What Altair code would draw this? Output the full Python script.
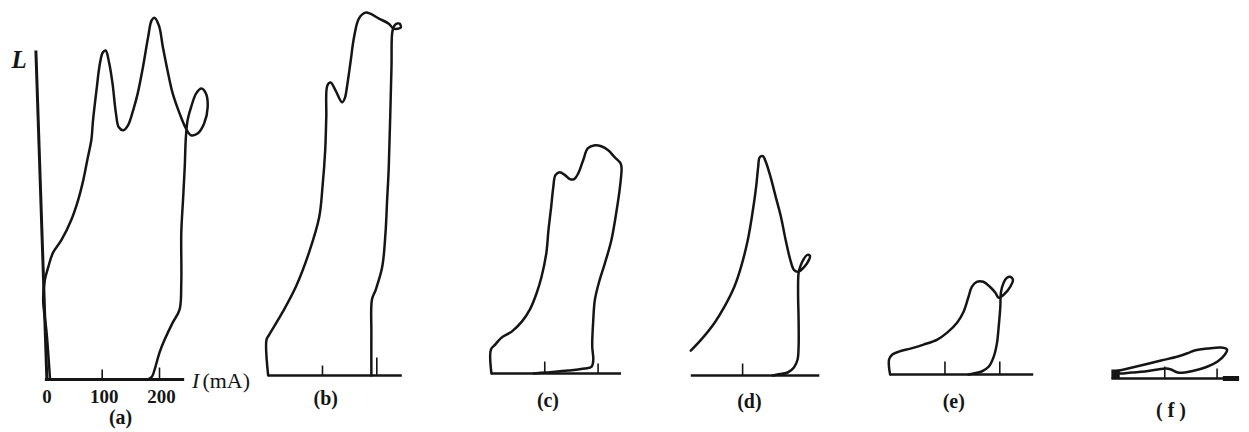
import altair as alt
import pandas as pd

# ---------------- data: light output L (arbitrary units) vs current I (mA) ----------------
A_I = [9, 3, -3, 0, 6, 14, 29, 46, 58, 67, 75, 81, 84, 90, 96, 101, 106, 112, 118, 124, 129, 137, 145,
       154, 162, 171, 180, 186, 191, 199, 206, 214, 223, 235, 246, 255, 267, 278, 284, 281, 273, 264,
       255, 249, 246, 244, 241, 238, 238, 235, 223, 209, 200, 193, 187, 180]
A_L = [0, 47, 80, 100, 113, 127, 140, 160, 180, 200, 223, 240, 260, 290, 317, 328, 330, 318, 297, 267,
       253, 250, 255, 270, 287, 313, 343, 360, 363, 355, 333, 310, 287, 267, 252, 245, 247, 257, 273,
       287, 292, 287, 273, 260, 243, 213, 180, 147, 97, 70, 57, 40, 27, 13, 3, 0]

B_I = [0, -3, 2, 26, 51, 75, 94, 100, 105, 107, 109, 115, 124, 136, 141, 146, 152, 158, 167, 179, 188,
       204, 222, 231, 244, 242, 234, 229, 227, 222, 219, 216, 210, 198, 191, 190, 190]
B_L = [0, 36, 41, 63, 89, 123, 159, 189, 226, 259, 291, 294, 286, 274, 278, 293, 316, 339, 358, 364,
       363, 358, 353, 348, 349, 353, 352, 346, 309, 209, 176, 143, 109, 86, 76, 43, 0]

C_I = [0, -1, 7, 19, 38, 57, 72, 85, 94, 103, 107, 112, 116, 120, 128, 138, 147, 155, 163, 172, 181,
       194, 206, 219, 231, 242, 244, 241, 234, 225, 213, 203, 194, 191, 189, 191, 188, 175, 144, 100, 79]
C_L = [0, 24, 29, 36, 42, 52, 64, 81, 97, 121, 144, 167, 187, 199, 202, 199, 195, 195, 201, 214, 226,
       229, 228, 224, 217, 211, 206, 187, 161, 134, 111, 94, 74, 54, 27, 14, 7, 5, 3, 1, 0]

D_I = [0, 20, 46, 65, 84, 97, 110, 119, 126, 130, 133, 139, 145, 154, 164, 174, 183, 192, 199, 207,
       219, 228, 230, 225, 217, 211, 208, 207, 208, 208, 206, 199, 187, 167, 158]
D_L = [25, 36, 53, 69, 89, 109, 136, 163, 189, 209, 219, 220, 214, 199, 179, 159, 136, 116, 106, 104,
       109, 116, 120, 121, 116, 109, 103, 83, 56, 29, 16, 8, 3, 1, 0]

E_I = [0, -2, -2, 4, 16, 37, 61, 86, 104, 122, 134, 143, 149, 158, 170, 182, 192, 198, 207, 219, 224,
       219, 213, 207, 202, 201, 198, 195, 189, 180, 167, 152, 143]
E_L = [0, 7, 15, 20, 23, 26, 30, 35, 42, 52, 63, 78, 88, 93, 93, 88, 82, 77, 80, 88, 95, 98, 97, 92,
       82, 68, 48, 32, 18, 8, 3, 1, 0]

F_I = [4, 30, 62, 93, 125, 147, 157, 182, 208, 219, 215, 201, 182, 157, 138, 125, 112, 103, 87, 62,
       36, 14, 4]
F_L = [7, 10, 14, 18, 22, 26, 28, 30, 31, 29, 24, 17, 12, 8, 6, 6, 9, 10, 9, 7, 6, 5, 7]

CURVES = {"a": (A_I, A_L), "b": (B_I, B_L), "c": (C_I, C_L),
          "d": (D_I, D_L), "e": (E_I, E_L), "f": (F_I, F_L)}

PANELS = ["a", "b", "c", "d", "e", "f"]
PANEL_LABELS = {"a": "(a)", "b": "(b)", "c": "(c)", "d": "(d)", "e": "(e)", "f": "( f )"}
LABEL_POS = {"a": (132, -39), "b": (106, -24), "c": (106, -28),
             "d": (113, -27), "e": (116, -28), "f": (112, -33)}

BASE_START = {"a": 0, "b": 0, "c": 0, "d": 0, "e": 0, "f": -2}
BASE_END = {"a": 243, "b": 246, "c": 243, "d": 248, "e": 261, "f": 242}
TICKS = {"a": [100, 200], "b": [100, 200], "c": [100, 200], "d": [100],
         "e": [100, 200], "f": [100, 200]}
TICK_H = {"a": [10, 12], "b": [10, 18], "c": [12, 10], "d": [12],
          "e": [13, 13], "f": [12, 10]}

A_TICK_LABELS = ["0", "100", "200"]
A_TICK_VALUES = [0, 100, 200]
A_AXIS_I = [3.5, -15.7]
A_AXIS_L = [-1, 330]

F_BLOCKS_I0 = [-2, 211]
F_BLOCKS_I1 = [14, 242]
F_BLOCKS_L0 = [0, -2.5]
F_BLOCKS_L1 = [9, 2.5]

# ---------------- layout (page pixels) ----------------
TOP, BOTTOM = 8, 424
H = BOTTOM - TOP
BOUNDS = [8, 264, 480, 680, 880, 1100, 1240]
ORIGIN = {"a": 45, "b": 269, "c": 493, "d": 693, "e": 893, "f": 1116}
KPX = {"a": 0.575, "b": 0.545, "c": 0.535, "d": 0.52, "e": 0.55, "f": 0.525}
BASEY = {"a": 380, "b": 376, "c": 374, "d": 376, "e": 375, "f": 379}

INK = "#151515"
SERIF = "Liberation Serif"


def make_panel(idx, p):
    left, right = BOUNDS[idx], BOUNDS[idx + 1]
    k, o, b = KPX[p], ORIGIN[p], BASEY[p]
    xs = alt.Scale(domain=[(left - o) / k, (right - o) / k], nice=False, zero=False)
    ys = alt.Scale(domain=[-(BOTTOM - b), b - TOP], nice=False, zero=False)

    def X(f):
        return alt.X(f, type="quantitative", scale=xs, axis=None)

    def Y(f):
        return alt.Y(f, type="quantitative", scale=ys, axis=None)

    ci, cl = CURVES[p]
    dfc = pd.DataFrame({"I": ci, "L": cl, "i": list(range(len(ci)))})
    curve = alt.Chart(dfc).mark_line(
        color=INK, strokeWidth=2.5, interpolate="catmull-rom",
        strokeCap="round", strokeJoin="round"
    ).encode(x=X("I"), y=Y("L"), order=alt.Order("i:Q"))

    dfb = pd.DataFrame({"s": [BASE_START[p]], "e": [BASE_END[p]], "L": [0]})
    base = alt.Chart(dfb).mark_rule(color=INK, strokeWidth=3 if p == "a" else 2.3).encode(
        x=X("s"), x2="e", y=Y("L"))

    dft = pd.DataFrame({"I": TICKS[p], "L0": [0] * len(TICKS[p]), "L1": TICK_H[p]})
    ticks = alt.Chart(dft).mark_rule(color=INK, strokeWidth=1.6).encode(
        x=X("I"), y=Y("L0"), y2="L1")

    lx, ly = LABEL_POS[p]
    dfl = pd.DataFrame({"I": [lx], "L": [ly], "t": [PANEL_LABELS[p]]})
    lab = alt.Chart(dfl).mark_text(font=SERIF, fontSize=20, fontWeight="bold", color=INK,
                                   baseline="middle", align="center").encode(
        x=X("I"), y=Y("L"), text="t:N")

    layers = [base, ticks, curve, lab]

    if p == "a":
        dfa = pd.DataFrame({"I": A_AXIS_I, "L": A_AXIS_L, "i": [0, 1]})
        axis_line = alt.Chart(dfa).mark_line(color=INK, strokeWidth=3).encode(
            x=X("I"), y=Y("L"), order=alt.Order("i:Q"))
        dftl = pd.DataFrame({"I": A_TICK_VALUES, "L": [-18] * 3, "t": A_TICK_LABELS})
        tl = alt.Chart(dftl).mark_text(font=SERIF, fontSize=19, fontWeight="bold", color=INK,
                                       baseline="middle", align="center", dx=2).encode(
            x=X("I"), y=Y("L"), text="t:N")
        dfL = pd.DataFrame({"I": [-45], "L": [320], "t": ["L"]})
        ltxt = alt.Chart(dfL).mark_text(font=SERIF, fontSize=25, fontWeight="bold",
                                        fontStyle="italic", color=INK,
                                        baseline="middle", align="center").encode(
            x=X("I"), y=Y("L"), text="t:N")
        dfI = pd.DataFrame({"I": [263], "L": [-2], "t": ["I"]})
        itxt = alt.Chart(dfI).mark_text(font=SERIF, fontSize=22, fontStyle="italic", color=INK,
                                        baseline="middle", align="center").encode(
            x=X("I"), y=Y("L"), text="t:N")
        dfm = pd.DataFrame({"I": [275], "L": [-2], "t": ["(mA)"]})
        mtxt = alt.Chart(dfm).mark_text(font=SERIF, fontSize=22, color=INK,
                                        baseline="middle", align="left").encode(
            x=X("I"), y=Y("L"), text="t:N")
        layers += [axis_line, tl, ltxt, itxt, mtxt]

    if p == "f":
        dfr = pd.DataFrame({"I0": F_BLOCKS_I0, "I1": F_BLOCKS_I1,
                            "L0": F_BLOCKS_L0, "L1": F_BLOCKS_L1})
        blocks = alt.Chart(dfr).mark_rect(color=INK).encode(
            x=X("I0"), x2="I1", y=Y("L0"), y2="L1")
        layers.append(blocks)

    return alt.layer(*layers).properties(width=right - left, height=H)


chart = alt.hconcat(*[make_panel(i, p) for i, p in enumerate(PANELS)], spacing=0,
                    bounds="flush").properties(padding=0).configure_view(stroke=None)

chart.save("out.html", embed_options={"renderer": "svg", "actions": False})
